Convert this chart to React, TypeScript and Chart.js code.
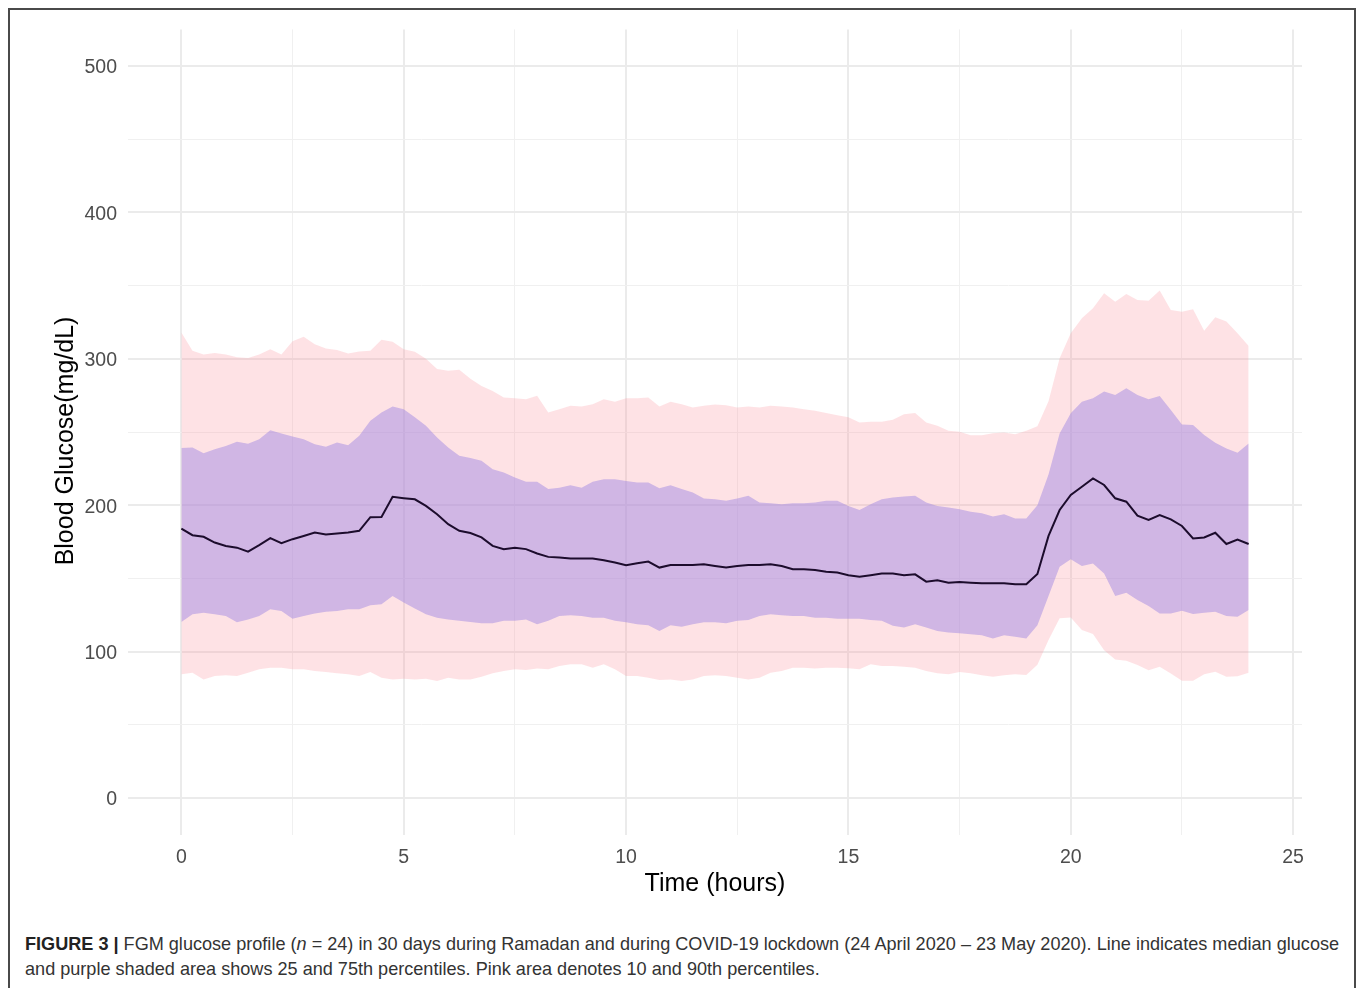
import React, { useEffect, useRef } from "react";
import { Chart, registerables } from "chart.js";

Chart.register(...registerables);

const HOURS = [
  0, 0.25, 0.5, 0.75, 1, 1.25, 1.5, 1.75, 2, 2.25, 2.5, 2.75, 3, 3.25, 3.5, 3.75,
  4, 4.25, 4.5, 4.75, 5, 5.25, 5.5, 5.75, 6, 6.25, 6.5, 6.75, 7, 7.25, 7.5, 7.75,
  8, 8.25, 8.5, 8.75, 9, 9.25, 9.5, 9.75, 10, 10.25, 10.5, 10.75, 11, 11.25, 11.5, 11.75,
  12, 12.25, 12.5, 12.75, 13, 13.25, 13.5, 13.75, 14, 14.25, 14.5, 14.75, 15, 15.25, 15.5, 15.75,
  16, 16.25, 16.5, 16.75, 17, 17.25, 17.5, 17.75, 18, 18.25, 18.5, 18.75, 19, 19.25, 19.5, 19.75,
  20, 20.25, 20.5, 20.75, 21, 21.25, 21.5, 21.75, 22, 22.25, 22.5, 22.75, 23, 23.25, 23.5, 23.75, 24,
];

const MEDIAN = [
  184, 179.5, 178.4, 174.5, 172.2, 171, 168.3, 172.7, 177.5, 174, 176.8, 179, 181.3, 180, 180.6, 181.3,
  182.5, 191.8, 192, 205.7, 204.8, 204, 199.5, 193.8, 187, 182.5, 181, 178, 172.2, 170, 171, 170,
  167, 164.7, 164.2, 163.6, 163.6, 163.6, 162.4, 160.8, 159, 160.4, 161.5, 157.4, 159.2, 159.2, 159.2, 159.7,
  158.5, 157.4, 158.5, 159.2, 159.2, 159.7, 158.5, 156.3, 156.3, 155.8, 154.5, 154, 152.2, 151.2, 152.2, 153.3,
  153.3, 152.2, 152.8, 147.8, 148.7, 147.1, 147.6, 147.1, 146.7, 146.7, 146.7, 146, 146, 153, 179, 196.7,
  207, 212.6, 218.3, 213.8, 204.7, 202.4, 192.8, 189.9, 193.3, 190.3, 185.8, 177.3, 178, 181.2, 173.5, 176.6, 173.5,
];

const P90 = [
  318, 305.5, 303, 304, 303, 301, 300.5, 303, 306.6, 303, 312, 315, 310, 307, 306, 303.6,
  305, 305.5, 313, 311.6, 306.6, 304.8, 300, 293, 291.8, 292.5, 286.3, 281.5, 278, 273.6, 273, 272.4,
  274.7, 263.3, 265.6, 268, 267.4, 269, 272.4, 270.6, 273, 273, 273.6, 267.4, 270.6, 269, 266.7, 268,
  268.8, 268.3, 266.7, 267.4, 266.7, 268, 267.4, 266.7, 265.6, 264.5, 262.9, 261.5, 260, 256.5, 257, 257,
  258.3, 262.2, 262.9, 256.5, 254.2, 250.8, 250.1, 247.8, 247.8, 249.2, 249.7, 248.5, 250.8, 254, 271, 300.3,
  317.4, 327.7, 334.5, 344.8, 339, 344.3, 340.2, 339.7, 346.6, 333.4, 332.2, 333.8, 319.2, 328.4, 325.4, 317.4, 308.8,
];

const P75 = [
  239, 239.4, 235.5, 238.3, 240.5, 243.3, 242, 245, 251.2, 249, 247, 245, 241.7, 240, 242.8, 241,
  247.4, 257.6, 263.3, 267.4, 265.6, 260, 254.2, 246.2, 239.4, 233.7, 232.3, 230.3, 224.6, 222.3, 219, 216,
  216, 211, 212, 213.7, 212, 216, 217.8, 217.8, 216.6, 215.5, 215.5, 211.6, 213.7, 211, 208.7, 204.6,
  204, 203, 204.6, 206.4, 201.8, 201.4, 200.7, 201.4, 201.4, 201.8, 203, 203, 199.5, 196.8, 200.7, 204,
  205.2, 205.9, 206.4, 201.8, 199.5, 198.4, 197.3, 195.5, 194.5, 192.3, 193.9, 191, 191, 200, 221, 249,
  262.8, 270.7, 273, 277.6, 275.3, 279.8, 275.3, 272.3, 274.6, 265, 255.2, 254.8, 248, 242.7, 238.8, 235.9, 242.2,
];

const P25 = [
  120.3, 125.5, 126.6, 125.5, 124.4, 120, 122, 124.4, 129, 127.8, 122.5, 124.4, 126, 127.3, 127.8, 129,
  129, 131.7, 132.3, 138, 133.5, 129.4, 125.5, 123.2, 122, 121, 120.3, 119.4, 119.4, 121, 121, 122,
  118.7, 121, 124.4, 124.8, 124.4, 123.2, 123.2, 121, 120, 118.7, 118, 114.1, 118, 117, 118.7, 120,
  120, 119.4, 121, 121.6, 124.4, 125.5, 124.8, 124.4, 124.4, 123.2, 123.2, 122.5, 122.5, 122.5, 121.6, 121,
  117.6, 116.4, 118.7, 116.4, 114.1, 113, 112.5, 111.8, 111.1, 108.9, 111.1, 110.2, 109, 118, 138, 158,
  163, 158.4, 160.2, 153.4, 137.9, 140.2, 135.2, 131.1, 126.1, 126.1, 127.9, 125.6, 126.5, 127.2, 124.3, 123.8, 128.4,
];

const P10 = [
  84.5, 85.6, 81, 83.4, 83.8, 83.4, 85.6, 87.9, 89, 89, 87.9, 87.9, 86.8, 86, 85.2, 84.5,
  83.4, 86, 82.2, 81, 81.5, 81, 81.5, 80, 82.2, 81, 81, 82.9, 85.2, 86.8, 87.9, 87.5,
  88.4, 87.9, 90.2, 91.3, 91.3, 89, 91.3, 87.9, 83.4, 83.4, 82.2, 80.6, 81, 80, 81, 83.4,
  83.8, 83.4, 82.2, 81, 82.2, 85.6, 86.8, 89, 89, 88.4, 89, 89, 88.6, 87.9, 91.3, 90.2,
  90.2, 89.7, 89, 86.8, 85.2, 84.5, 86, 85.2, 83.8, 82.9, 83.8, 84.5, 84, 91, 108, 122.7,
  123.3, 114.7, 112, 101, 94.6, 93.7, 90.8, 87.3, 89.6, 85.1, 80.1, 80.1, 84.6, 86.2, 82.8, 83.2, 85.5,
];

const X_GRID = [0, 2.5, 5, 7.5, 10, 12.5, 15, 17.5, 20, 22.5, 25];
const Y_GRID = [0, 50, 100, 150, 200, 250, 300, 350, 400, 450, 500];

const X_TITLE = "Time (hours)";
const Y_TITLE = "Blood Glucose(mg/dL)";

const FONT = "'Liberation Sans', Arial, Helvetica, sans-serif";

function pts(values: number[]) {
  return values.map((v, i) => ({ x: HOURS[i], y: v }));
}

const yTitlePlugin = {
  id: "yTitleOffset",
  afterDraw(chart: any) {
    const ctx = chart.ctx;
    const area = chart.chartArea;
    ctx.save();
    ctx.translate(66, (area.top + area.bottom) / 2 + 9);
    ctx.rotate(-Math.PI / 2);
    ctx.font = `25px ${FONT}`;
    ctx.fillStyle = "#000000";
    ctx.textAlign = "center";
    ctx.textBaseline = "middle";
    ctx.fillText(Y_TITLE, 0, 0);
    ctx.restore();
  },
};

export default function App() {
  const ref = useRef<HTMLCanvasElement | null>(null);

  useEffect(() => {
    if (!ref.current) return;
    const isMajor = (v: number, step: number) => Math.abs(v % step) < 1e-9;
    const chart = new Chart(ref.current, {
      type: "line",
      data: {
        datasets: [
          {
            label: "Median",
            data: pts(MEDIAN),
            borderColor: "#1c0c2c",
            borderWidth: 2,
            pointRadius: 0,
            fill: false,
            tension: 0,
          },
          {
            label: "75th",
            data: pts(P75),
            borderWidth: 0,
            borderColor: "rgba(0,0,0,0)",
            pointRadius: 0,
            fill: false,
          },
          {
            label: "25th",
            data: pts(P25),
            borderWidth: 0,
            borderColor: "rgba(0,0,0,0)",
            backgroundColor: "rgba(162,138,228,0.5)",
            pointRadius: 0,
            fill: "-1",
          },
          {
            label: "90th",
            data: pts(P90),
            borderWidth: 0,
            borderColor: "rgba(0,0,0,0)",
            pointRadius: 0,
            fill: false,
          },
          {
            label: "10th",
            data: pts(P10),
            borderWidth: 0,
            borderColor: "rgba(0,0,0,0)",
            backgroundColor: "rgba(250,150,160,0.28)",
            pointRadius: 0,
            fill: "-1",
          },
        ],
      },
      options: {
        responsive: false,
        animation: false,
        layout: { padding: { left: 0, right: 58, top: 29.4, bottom: 0 } },
        plugins: {
          legend: { display: false },
          tooltip: { enabled: false },
        },
        scales: {
          x: {
            type: "linear",
            min: -1.2,
            max: 25.2,
            afterBuildTicks: (axis: any) => {
              axis.ticks = X_GRID.map((v) => ({ value: v }));
            },
            afterFit: (axis: any) => {
              axis.height = 75.4;
            },
            border: { display: false },
            grid: {
              drawTicks: false,
              color: (ctx: any) => (isMajor(ctx.tick.value, 5) ? "#EBEBEB" : "#F0F0F0"),
              lineWidth: (ctx: any) => (isMajor(ctx.tick.value, 5) ? 2 : 1),
            },
            ticks: {
              padding: 11,
              color: "#4D4D4D",
              font: { family: FONT, size: 19.5 },
              maxRotation: 0,
              autoSkip: false,
              callback: (v: any) => (isMajor(Number(v), 5) ? String(v) : ""),
            },
            title: {
              display: true,
              text: X_TITLE,
              color: "#000000",
              font: { family: FONT, size: 25 },
              padding: { top: 0, bottom: 10.5 },
            },
          },
          y: {
            type: "linear",
            min: -25,
            max: 525,
            afterBuildTicks: (axis: any) => {
              axis.ticks = Y_GRID.map((v) => ({ value: v }));
            },
            afterFit: (axis: any) => {
              axis.width = 128;
            },
            border: { display: false },
            grid: {
              drawTicks: false,
              color: (ctx: any) => (isMajor(ctx.tick.value, 100) ? "#EBEBEB" : "#F0F0F0"),
              lineWidth: (ctx: any) => (isMajor(ctx.tick.value, 100) ? 2 : 1),
            },
            ticks: {
              padding: 11,
              labelOffset: 2,
              color: "#4D4D4D",
              font: { family: FONT, size: 19.5 },
              autoSkip: false,
              callback: (v: any) => (isMajor(Number(v), 100) ? String(v) : ""),
            },
            title: { display: false },
          },
        },
      },
      plugins: [yTitlePlugin],
    });
    return () => chart.destroy();
  }, []);

  return (
    <div style={{ position: "fixed", left: 0, top: 0, width: 1360, height: 988, overflow: "hidden", background: "#fff" }}>
      <div
        style={{
          position: "absolute",
          left: 8,
          top: 8,
          width: 1348,
          height: 1010,
          border: "2px solid #4a4a4a",
          boxSizing: "border-box",
        }}
      />
      <canvas
        ref={ref}
        width={1360}
        height={910}
        aria-label={`${Y_TITLE} vs ${X_TITLE}`}
        style={{ position: "absolute", left: 0, top: 0, width: 1360, height: 910, display: "block" }}
      />
      <div
        style={{
          position: "absolute",
          left: 25,
          top: 932,
          fontFamily: FONT,
          fontSize: 18.1,
          lineHeight: "25px",
          color: "#333333",
          whiteSpace: "nowrap",
        }}
      >
        <b style={{ color: "#222" }}>FIGURE 3 |</b> FGM glucose profile (<i>n</i> = 24) in 30 days during Ramadan and
        during COVID-19 lockdown (24 April 2020 – 23 May 2020). Line indicates median glucose
        <br />
        and purple shaded area shows 25 and 75th percentiles. Pink area denotes 10 and 90th percentiles.
      </div>
    </div>
  );
}
